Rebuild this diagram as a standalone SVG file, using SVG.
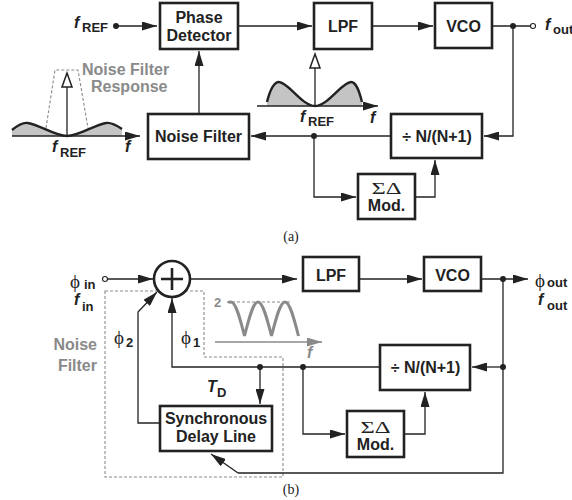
<svg xmlns="http://www.w3.org/2000/svg" width="572" height="500" viewBox="0 0 572 500">
<style>
.box{fill:#fff;stroke:#222;stroke-width:2.6}
.ln{fill:none;stroke:#222;stroke-width:1.3}
.ar{fill:none;stroke:#222;stroke-width:1.3;marker-end:url(#ah)}
.t{font-family:"Liberation Sans",Arial,sans-serif;font-weight:bold;font-size:16px;fill:#222}
.tc{text-anchor:middle}
.it{font-family:"Liberation Sans",Arial,sans-serif;font-weight:bold;font-style:italic;font-size:16px;fill:#222}
.sub{font-family:"Liberation Sans",Arial,sans-serif;font-weight:bold;font-size:13px;fill:#222}
.phi{font-family:"Liberation Serif","DejaVu Serif",serif;font-size:19px;fill:#222}
.g{font-family:"Liberation Sans",Arial,sans-serif;font-weight:bold;font-size:16px;fill:#8a8a8a}
.cap{font-family:"Liberation Serif","Times New Roman",serif;font-size:14px;fill:#222;text-anchor:middle}
.sig{font-family:"Liberation Serif","Times New Roman",serif;font-size:17px;fill:#222;text-anchor:middle}
.dash{fill:none;stroke:#8a8a8a;stroke-width:1.1;stroke-dasharray:3,2}
.dot{fill:#222}
</style>
<defs>
<marker id="ah" viewBox="0 0 15 9" refX="15" refY="4.5" markerWidth="15" markerHeight="9" markerUnits="userSpaceOnUse" orient="auto"><path d="M0,0 L15,4.5 L0,9 z" fill="#222"/></marker>
<marker id="ahg" viewBox="0 0 15 9" refX="15" refY="4.5" markerWidth="15" markerHeight="9" markerUnits="userSpaceOnUse" orient="auto"><path d="M0,0 L15,4.5 L0,9 z" fill="#8a8a8a"/></marker>
</defs>

<!-- ===== (a) ===== -->
<g id="connectors-a">
<path class="ar" d="M116,26 H157"/>
<path class="ar" d="M238,26 H312"/>
<path class="ar" d="M372,26 H433"/>
<path class="ln" d="M492,26 H530.5"/>
<path class="ar" d="M513,26 V136 H484"/>
<path class="ar" d="M391,136 H251"/>
<path class="ar" d="M314,136 V197 H356"/>
<path class="ar" d="M415,197 H435 V160"/>
<path class="ar" d="M199,114 V51"/>
<circle class="dot" cx="116" cy="26" r="3"/>
<circle class="dot" cx="513" cy="26" r="3"/>
<circle class="dot" cx="314" cy="136" r="3"/>
<circle cx="533" cy="26" r="2.5" fill="#fff" stroke="#222" stroke-width="1.1"/>
</g>

<g id="pd">
<rect class="box" x="160" y="3" width="78" height="46"/>
<text class="t tc" x="199" y="23">Phase</text>
<text class="t tc" x="199" y="41">Detector</text>
</g>
<g id="lpf-a">
<rect class="box" x="314" y="3" width="58" height="46"/>
<text class="t tc" x="343" y="32">LPF</text>
</g>
<g id="vco-a">
<rect class="box" x="435" y="3" width="57" height="45"/>
<text class="t tc" x="463.5" y="32">VCO</text>
</g>
<g id="nf-a">
<rect class="box" x="148" y="114" width="101" height="45"/>
<text class="t tc" x="198.5" y="142">Noise Filter</text>
</g>
<g id="div-a">
<rect class="box" x="391" y="114" width="91" height="44"/>
<text class="t tc" x="437" y="142">÷ N/(N+1)</text>
</g>
<g id="sd-a">
<rect class="box" x="358" y="174" width="57" height="45"/>
<text class="sig" x="386.5" y="194" textLength="30" lengthAdjust="spacingAndGlyphs">ΣΔ</text>
<text class="t tc" x="386.5" y="211">Mod.</text>
</g>

<g id="labels-a">
<text x="74" y="28" class="it">f</text><text x="82" y="32" class="sub">REF</text>
<text x="545" y="30" class="it">f</text><text x="553" y="34" class="sub">out</text>
</g>

<g id="spectrum-a-left">
<path d="M12,130 C18,125 23,122 28,123 C40,125 55,136 67,136 C79,136 94,125 106,123 C111,122 116,125 122,129 L122,136 L12,136 Z" fill="#c4c4c4"/>
<path d="M12,130 C18,125 23,122 28,123 C40,125 55,136 67,136 C79,136 94,125 106,123 C111,122 116,125 122,129" fill="none" stroke="#222" stroke-width="2.4"/>
<path class="ar" d="M12,136 H140"/>
<path class="dash" d="M46,128 L55,70 L78,70 L88,128"/>
<path class="ln" d="M67,136 V87" stroke-width="2"/>
<path d="M67,73 L72,87 L62,87 Z" fill="#fff" stroke="#222" stroke-width="1.5"/>
<text class="g" x="82" y="75">Noise Filter</text>
<text class="g" x="91" y="92">Response</text>
<text x="52" y="152" class="it">f</text><text x="60" y="157" class="sub">REF</text>
<text x="125" y="152" class="it">f</text>
</g>

<g id="spectrum-a-mid">
<path d="M267,102 C270,90 274,82 279,82 C288,82 302,106 315,106 C328,106 342,82 351,82 C356,82 359,90 362,102 L362,106 L267,106 Z" fill="#c4c4c4"/>
<path d="M267,102 C270,90 274,82 279,82 C288,82 302,106 315,106 C328,106 342,82 351,82 C356,82 359,90 362,102" fill="none" stroke="#222" stroke-width="2.4"/>
<path class="ar" d="M257,106 H378"/>
<path class="ln" d="M315,106 V68" stroke-width="2"/>
<path d="M315,54 L320,68 L310,68 Z" fill="#fff" stroke="#222" stroke-width="1.5"/>
<text x="300" y="122" class="it">f</text><text x="308" y="126" class="sub">REF</text>
<text x="370" y="123" class="it">f</text>
</g>

<text class="cap" x="291" y="241">(a)</text>

<!-- ===== (b) ===== -->
<g id="nf-boundary">
<path class="dash" d="M105,291 H204 V357 H283 V477 H105 Z"/>
<text class="g" x="97" y="350" text-anchor="end">Noise</text>
<text class="g" x="97" y="371" text-anchor="end">Filter</text>
</g>

<g id="connectors-b">
<path class="ar" d="M107.5,279 H153"/>
<path class="ar" d="M190.5,279 H297"/>
<path class="ar" d="M359,279 H422"/>
<path class="ar" d="M481,279 H528"/>
<path class="ln" d="M503,279 V473 H238"/>
<path class="ar" d="M238,473 L211,454"/>
<path class="ar" d="M503,367 H472"/>
<path class="ar" d="M380,367 H172 V298"/>
<path class="ar" d="M303,367 V434 H345"/>
<path class="ar" d="M404,434 H425 V392"/>
<path class="ar" d="M260,367 V404"/>
<path class="ar" d="M160,423 H138 V312 L157,292"/>
<circle class="dot" cx="503" cy="279" r="3"/>
<circle class="dot" cx="503" cy="367" r="3"/>
<circle class="dot" cx="303" cy="367" r="3"/>
<circle class="dot" cx="260" cy="367" r="3"/>
<circle cx="105" cy="279" r="2.5" fill="#fff" stroke="#222" stroke-width="1.1"/>
</g>

<g id="sum">
<circle cx="172" cy="279" r="18" fill="#fff" stroke="#222" stroke-width="2.6"/>
<path d="M161,279 H183 M172,268 V290" stroke="#222" stroke-width="2.6"/>
</g>
<g id="lpf-b">
<rect class="box" x="303" y="257" width="56" height="34"/>
<text class="t tc" x="331" y="281">LPF</text>
</g>
<g id="vco-b">
<rect class="box" x="424" y="257" width="57" height="34"/>
<text class="t tc" x="452.5" y="281">VCO</text>
</g>
<g id="div-b">
<rect class="box" x="380" y="345" width="90" height="45"/>
<text class="t tc" x="425.5" y="373">÷ N/(N+1)</text>
</g>
<g id="sd-b">
<rect class="box" x="347" y="411" width="57" height="46"/>
<text class="sig" x="375.5" y="433" textLength="30" lengthAdjust="spacingAndGlyphs">ΣΔ</text>
<text class="t tc" x="375.5" y="450">Mod.</text>
</g>
<g id="sdl">
<rect class="box" x="160" y="406" width="112" height="45"/>
<text class="t tc" x="216" y="424">Synchronous</text>
<text class="t tc" x="216" y="442">Delay Line</text>
</g>

<g id="labels-b">
<text class="phi" x="70" y="288">ϕ</text><text class="sub" x="84" y="289">in</text>
<text class="it" x="74" y="305">f</text><text class="sub" x="82" y="311">in</text>
<text class="phi" x="535" y="287">ϕ</text><text class="sub" x="547" y="287">out</text>
<text class="it" x="538" y="305">f</text><text class="sub" x="547" y="310">out</text>
<text class="phi" x="114" y="344">ϕ</text><text class="sub" x="126" y="347">2</text>
<text class="phi" x="181" y="344">ϕ</text><text class="sub" x="193" y="347">1</text>
<text class="it" x="207" y="392">T</text><text class="sub" x="217" y="397">D</text>
</g>

<g id="spectrum-b">
<text class="sub" x="214" y="307" style="fill:#8a8a8a">2</text>
<path class="dash" d="M227,302 H290"/>
<path d="M228,302.5 C229,302 230,302 231,302 C235.9,302 240.1,318.6 244.5,336 C248.9,318.6 253.1,302 258,302 C262.9,302 267.1,318.6 271.5,336 C275.9,318.6 280.1,302 285,302 C289.9,302 294.1,318.6 298.5,336" fill="none" stroke="#8a8a8a" stroke-width="3"/>
<path d="M215,342 H322" fill="none" stroke="#8a8a8a" stroke-width="1.5" marker-end="url(#ahg)"/>
<text x="307" y="358" class="it" style="fill:#8a8a8a">f</text>
</g>

<text class="cap" x="291" y="494">(b)</text>
</svg>
